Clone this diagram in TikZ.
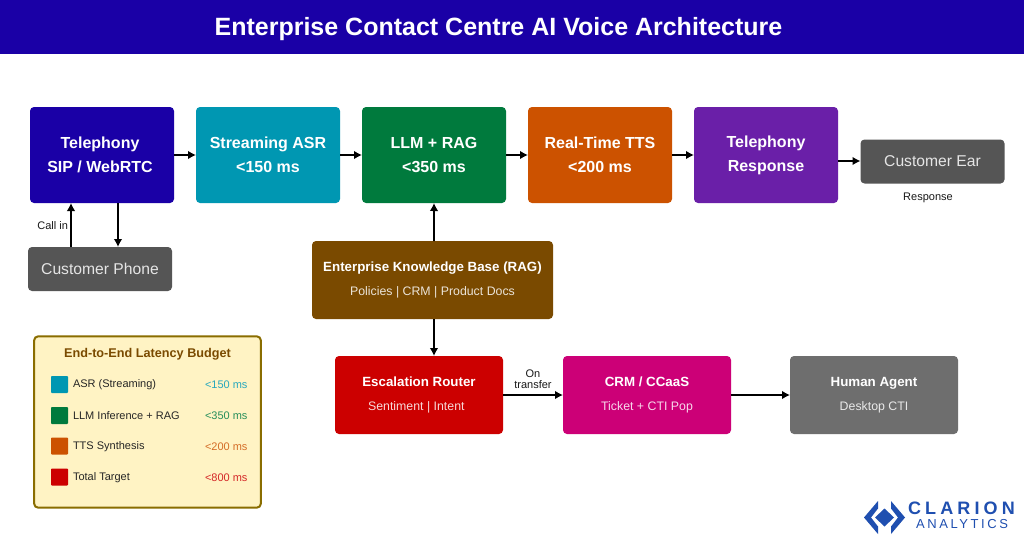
\documentclass[tikz,border=0pt]{standalone}
\usepackage{fontspec}
\usetikzlibrary{arrows.meta}
\setmainfont{Liberation Sans}
\newfontfamily\logobig[LetterSpace=23]{Liberation Sans}
\newfontfamily\logosmall[LetterSpace=20]{Liberation Sans}
\definecolor{cTel}{HTML}{1A00A6}
\definecolor{cAsr}{HTML}{0097B2}
\definecolor{cLlm}{HTML}{007A3D}
\definecolor{cTts}{HTML}{CC5200}
\definecolor{cResp}{HTML}{6A1FA8}
\definecolor{cCust}{HTML}{555555}
\definecolor{cKb}{HTML}{7A4A00}
\definecolor{cEsc}{HTML}{CC0000}
\definecolor{cCrm}{HTML}{CC0077}
\definecolor{cAgent}{HTML}{6E6E6E}
\definecolor{cPaper}{HTML}{FFF3C4}
\definecolor{cEdge}{HTML}{8A6D00}
\definecolor{cLogo}{HTML}{1F4FB0}
\newcommand{\subline}[2]{{\fontsize{9.25}{12}\selectfont\mdseries\color{white!85!#1}#2}}
\begin{document}
\begin{tikzpicture}[x=.75pt, y=-.75pt,
	every node/.style={inner sep=0pt, outer sep=0pt, align=center},
	stage/.style={fill=#1, rounded corners=3pt, text=white, minimum width=108pt, minimum height=72pt, font=\fontsize{12}{18}\selectfont\bfseries},
	wide/.style={fill=#1, rounded corners=3pt, text=white, minimum width=126pt, minimum height=58.5pt, font=\fontsize{10}{13}\selectfont\bfseries},
	cust/.style={fill=cCust, rounded corners=3pt, text=white!90!black, minimum width=108pt, minimum height=33pt, font=\fontsize{11.75}{14}\selectfont},
	swatch/.style={fill=#1, rounded corners=.6pt, minimum width=12.75pt, minimum height=12.75pt},
	rowname/.style={anchor=west, text=black!85, font=\fontsize{8.25}{10}\selectfont},
	rowval/.style={anchor=east, text=#1, font=\fontsize{8.25}{10}\selectfont},
	small/.style={text=black!90, font=\fontsize{8.25}{9.5}\selectfont},
	link/.style={line width=1.4pt, -{Latex[length=6pt,width=6.5pt]}}]
	\useasboundingbox (0,0) rectangle (1024,542);
	\fill[white] (0,0) rectangle (1024,542);
	\fill[cTel] (0,0) rectangle (1024,54);
	\node[text=white, font=\fontsize{18.75}{22}\selectfont\bfseries] (title) at (498.5,29) {Enterprise Contact Centre AI Voice Architecture};
	\node[stage=cTel] (tel) at (102,155) {\raisebox{-.75pt}{Telephony}\kern3pt\\\raisebox{-.75pt}{SIP / WebRTC}\kern3pt};
	\node[stage=cAsr] (asr) at (268,155) {\raisebox{-.75pt}{Streaming ASR}\\\raisebox{-.75pt}{<150 ms}};
	\node[stage=cLlm] (llm) at (434,155) {\raisebox{-.75pt}{LLM + RAG}\\\raisebox{-.75pt}{<350 ms}};
	\node[stage=cTts] (tts) at (600,155) {\raisebox{-.75pt}{Real-Time TTS}\\\raisebox{-.75pt}{<200 ms}};
	\node[stage=cResp] (resp) at (766,155) {\raisebox{-.75pt}{Telephony}\\\raisebox{-.75pt}{Response}};
	\node[cust] (ear) at (932.5,161.5) {Customer Ear};
	\node[cust] (phone) at (100,269) {Customer Phone};
	\node[small] (resplabel) at (928,198) {Response};
	\node[small, anchor=east] (calllabel) at (68,226) {Call in};
	\node[wide=cKb, minimum width=180.75pt] (kb) at (432.5,280) {Enterprise Knowledge Base (RAG)\\[5pt]\subline{cKb}{Policies | CRM | Product Docs}};
	\node[wide=cEsc] (esc) at (419,395) {Escalation Router\\[5pt]\subline{cEsc}{Sentiment | Intent}\kern4pt};
	\node[wide=cCrm] (crm) at (647,395) {CRM / CCaaS\\[5pt]\subline{cCrm}{Ticket + CTI Pop}};
	\node[wide=cAgent] (agent) at (874,395) {Human Agent\\[5pt]\subline{cAgent}{Desktop CTI}};
	\node[small] (translabel) at (533,379) {On\\[-1.5pt]transfer};
	\draw[link] (tel) to (asr);
	\draw[link] (asr) to (llm);
	\draw[link] (llm) to (tts);
	\draw[link] (tts) to (resp);
	\draw[link] ([yshift=.375pt]resp.east |- ear) to ([yshift=.375pt]ear.west);
	\draw[link] ([xshift=-21.75pt]phone.north) to ([xshift=-23.25pt]tel.south);
	\draw[link] ([xshift=12pt]tel.south) to ([xshift=13.5pt]phone.north);
	\draw[link] ([xshift=1.1pt]kb.north) to (llm.south);
	\draw[link] ([xshift=1.1pt]kb.south) to ([xshift=11.25pt]esc.north);
	\draw[link] (esc) to (crm);
	\draw[link] (crm) to (agent);
	% latency panel
	\node[fill=cPaper, draw=cEdge, line width=1.5pt, rounded corners=3pt, minimum width=170pt, minimum height=128.5pt] (budget) at (147.5,422) {};
	\node[text=cKb, font=\fontsize{9.5}{12}\selectfont\bfseries] (budgettitle) at (147.5,354) {End-to-End Latency Budget};
	\node[swatch=cAsr] (s1) at (59.5,384.5) {};
	\node[swatch=cLlm] (s2) at (59.5,415.5) {};
	\node[swatch=cTts] (s3) at (59.5,446) {};
	\node[swatch=cEsc] (s4) at (59.5,477) {};
	\node[rowname] (n1) at (73,385) {ASR (Streaming)};
	\node[rowname] (n2) at (73,416) {LLM Inference + RAG};
	\node[rowname] (n3) at (73,446.5) {TTS Synthesis};
	\node[rowname] (n4) at (73,477.5) {Total Target};
	\node[rowval=cAsr!85!white] (v1) at (247.5,385) {<150 ms};
	\node[rowval=cLlm!85!white] (v2) at (247.5,416) {<350 ms};
	\node[rowval=cTts!85!white] (v3) at (247.5,446.5) {<200 ms};
	\node[rowval=cEsc!85!white] (v4) at (247.5,477.5) {<800 ms};
	% logo
	\fill[cLogo] (878,501) -- (864,517.5) -- (878,534) -- (878,526.5) -- (871,517.5) -- (878,508.5) -- cycle;
	\fill[cLogo] (891,501) -- (905,517.5) -- (891,534) -- (891,526.5) -- (898,517.5) -- (891,508.5) -- cycle;
	\fill[cLogo] (884.5,508.5) -- (894,517.5) -- (884.5,526.5) -- (875,517.5) -- cycle;
	\node[anchor=west, text=cLogo, font=\fontsize{13.5}{14}\logobig\bfseries] (clarion) at (908,508) {CLARION};
	\node[anchor=west, text=cLogo, font=\fontsize{9.75}{11}\logosmall] (analytics) at (916,524) {ANALYTICS};
\end{tikzpicture}
\end{document}
